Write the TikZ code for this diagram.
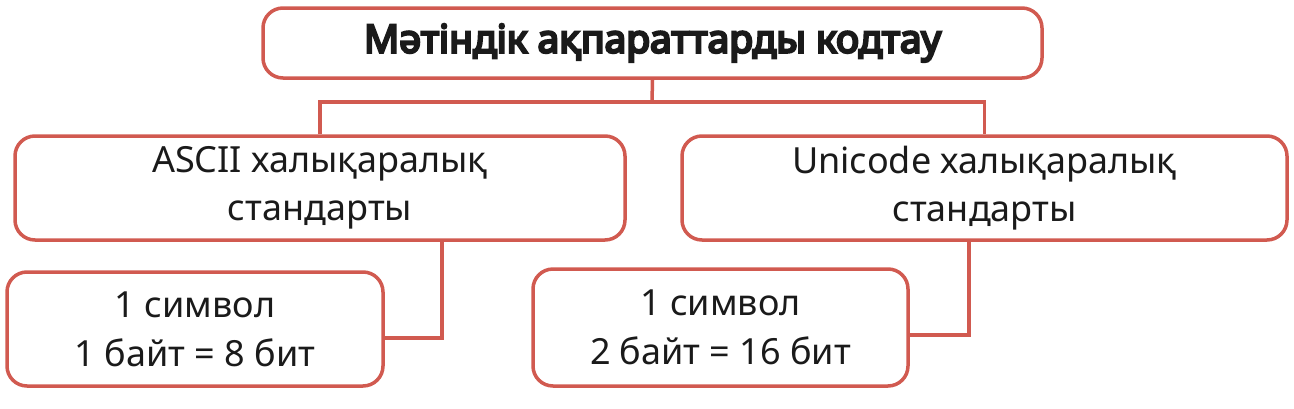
\documentclass[tikz,border=0pt]{standalone}
\usepackage{fontspec}
\setmainfont{Noto Sans}
\newfontfamily\titlefont{Noto Sans}[FakeBold=6]
\usetikzlibrary{positioning}
\definecolor{boxred}{HTML}{D15A50}
\definecolor{ink}{HTML}{1A1A1A}

\begin{document}
\begin{tikzpicture}[
  x=1pt, y=-1pt,
  box/.style = {draw=boxred, line width=3.5pt, rounded corners=20pt, fill=white, text=ink, align=center, inner sep=0pt, font=\fontsize{36}{48}\selectfont},
  link/.style = {draw=boxred, line width=3.5pt}
  ]
	\useasboundingbox (0,0) rectangle (1294,408);

	\node[box, minimum width=779, minimum height=70, font=\titlefont\fontsize{39}{44}\selectfont] (title) at (652.5,43) {Мәтіндік ақпараттарды кодтау};

	\node[box, minimum width=610, minimum height=104] (ascii) at (320,188) {ASCII халықаралық\\стандарты};
	\node[box, minimum width=605, minimum height=104] (unicode) at (984.5,188) {Unicode халықаралық\\стандарты};

	\node[box, minimum width=376, minimum height=114, font=\fontsize{36}{49}\selectfont] (asciibits) at (195,329) {1 символ\\1 байт = 8 бит};
	\node[box, minimum width=375, minimum height=117, font=\fontsize{36}{49}\selectfont] (unibits) at (720.5,327.5) {1 символ\\2 байт = 16 бит};

	\coordinate (fork) at (652,102);
	\coordinate (asciiturn) at (442,338);
	\coordinate (uniturn) at (969,335);

	\draw[link] (title.south) -- (fork);
	\draw[link] (ascii.north) |- (fork) -| (unicode.north);

	\draw[link] (ascii.south -| asciiturn) -- (asciiturn) -- (asciibits.east |- asciiturn);
	\draw[link] (unicode.south -| uniturn) -- (uniturn) -- (unibits.east |- uniturn);
\end{tikzpicture}
\end{document}
